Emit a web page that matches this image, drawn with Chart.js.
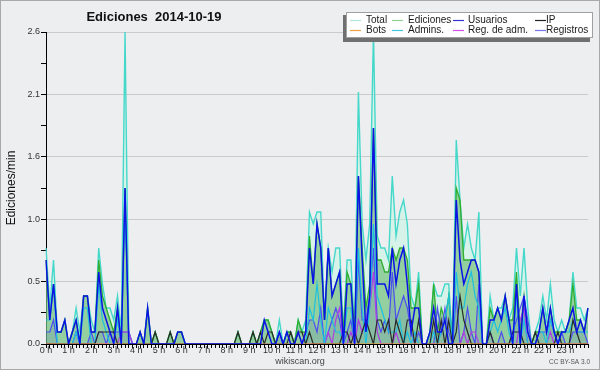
<!DOCTYPE html>
<html><head><meta charset="utf-8">
<script src="https://cdn.jsdelivr.net/npm/chart.js@4/dist/chart.umd.min.js"></script>
<style>html,body{margin:0;padding:0;background:#edeef0;}canvas{display:block;}</style>
</head><body>
<canvas id="c" width="600" height="370"></canvas>
<script>
// ---- data (10-minute steps, edits per minute) ----
const hourTicks = ['0 h','1 h','2 h','3 h','4 h','5 h','6 h','7 h','8 h','9 h','10 h','11 h','12 h','13 h','14 h','15 h','16 h','17 h','18 h','19 h','20 h','21 h','22 h','23 h'];
const times = [];
for (let h = 0; h <= 24; h++) for (let m = 0; m < 60; m += 10) { if (h === 24 && m > 0) break; times.push(String(h).padStart(2,'0') + ':' + String(m).padStart(2,'0')); }

const yTickValues = [0, 0.26, 0.52, 0.78, 1.04, 1.3, 1.56, 1.82, 2.08, 2.34, 2.6];
const yTickLabels = ['0.0', '', '0.5', '', '1.0', '', '1.6', '', '2.1', '', '2.6'];

const total = [
0.8,0.3,0.7,0.1,0.1,0.2, 0,0.1,0.3,0.1,0.4,0.4, 0.2,0.1,0.8,0.5,0.3,0.3, 0.2,0.4,0.1,2.6,0.1,0,
0,0.1,0,0.3,0,0.1, 0,0,0,0.1,0,0.1, 0.1,0,0,0,0,0, 0,0,0,0,0,0,
0,0,0,0.1,0,0, 0,0.1,0,0.1,0.2,0.2, 0.1,0,0.2,0,0.1,0.1, 0,0.2,0.1,0.2,1.1,1.0,
1.1,1.1,0.2,0.8,0.6,0.8, 0.8,0.1,0.7,0.7,0.1,2.1, 1.0,0.7,1.0,2.6,0.9,0.8, 0.8,0.7,1.4,0.9,1.1,1.2,
1.0,0.4,0.3,0.6,0,0, 0.1,0.5,0.4,0.4,0.5,0.5, 0,1.7,1.2,0.8,1.0,0.8, 0.7,1.1,0,0,0.4,0.2,
0.3,0.3,0.4,0.2,0.3,0.8, 0.4,0.8,0.3,0,0.1,0.2, 0.4,0.2,0.5,0.2,0.1,0.2, 0.1,0.2,0.6,0.3,0.3,0.2,
0.3];
const ediciones = [
0.7,0.2,0.5,0.1,0.1,0.2, 0,0.1,0.2,0,0.4,0.4, 0.1,0.1,0.7,0.4,0.3,0.2, 0.1,0.3,0,1.3,0,0,
0,0.1,0,0.3,0,0.1, 0,0,0,0.1,0,0.1, 0.1,0,0,0,0,0, 0,0,0,0,0,0,
0,0,0,0.1,0,0, 0,0.1,0,0.1,0.2,0.2, 0.1,0,0.1,0,0.1,0.1, 0,0.2,0.1,0.1,0.9,0.5,
1.0,0.8,0.2,0.8,0.4,0.5, 0.6,0.1,0.6,0.5,0.1,1.4, 0.8,0.3,0.5,1.8,0.7,0.7, 0.6,0.6,0.8,0.7,0.8,0.8,
0.7,0.3,0.3,0.5,0,0, 0.1,0.5,0.1,0.3,0.2,0.4, 0,1.3,1.2,0.7,0.7,0.7, 0.7,0.6,0,0,0.3,0.2,
0.3,0.2,0.4,0.2,0.2,0.6, 0.1,0.4,0.1,0,0.1,0.1, 0.3,0.1,0.3,0.1,0.1,0.1, 0.1,0.2,0.5,0.2,0.2,0.1,
0.3];
const usuarios = [
0.7,0.2,0.5,0.1,0.1,0.2, 0,0.1,0.2,0,0.4,0.4, 0.1,0.1,0.6,0.3,0.2,0.1, 0,0.3,0,1.3,0,0,
0,0.1,0,0.3,0,0, 0,0,0,0,0,0.1, 0.1,0,0,0,0,0, 0,0,0,0,0,0,
0,0,0,0,0,0, 0,0,0,0,0.2,0.1, 0,0,0.1,0,0.1,0, 0,0.1,0,0.1,0.8,0.5,
1.0,0.8,0.2,0.8,0.4,0.5, 0.6,0,0.5,0.5,0,1.4, 0.7,0.1,0.4,1.8,0.5,0.5, 0.5,0.4,0.8,0.5,0.7,0.8,
0.5,0.1,0.3,0.3,0,0, 0.1,0.3,0.1,0.1,0.2,0, 0,1.2,0.7,0.5,0.6,0.7, 0.7,0.6,0,0,0.2,0.2,
0.3,0.2,0.4,0.2,0,0.5, 0,0.4,0.1,0,0,0.1, 0.3,0.1,0.3,0.1,0,0.1, 0.1,0.2,0.3,0.1,0.2,0.1,
0.3];
const ip = [
0,0,0,0,0,0, 0,0,0,0,0,0, 0,0,0.1,0.1,0.1,0.1, 0.1,0,0,0,0,0,
0,0,0,0,0,0.1, 0,0,0,0.1,0,0, 0,0,0,0,0,0, 0,0,0,0,0,0,
0,0,0,0.1,0,0, 0,0.1,0,0.1,0,0.1, 0.1,0,0,0,0,0.1, 0,0.1,0.1,0,0.1,0,
0,0,0,0,0,0, 0,0.1,0.1,0,0.1,0, 0.1,0.2,0.1,0,0.2,0.2, 0.1,0.2,0,0.2,0.1,0,
0.2,0.2,0,0.2,0,0, 0,0.2,0,0.2,0,0.2, 0,0.1,0.4,0.2,0.1,0, 0,0,0,0,0.1,0,
0,0,0,0,0.1,0.1, 0.1,0,0,0,0.1,0, 0,0,0,0,0.1,0, 0,0,0.2,0.1,0,0,
0];
const bots = [
0,0,0,0,0,0, 0,0,0,0,0,0, 0,0,0,0,0,0, 0,0,0,0,0,0,
0,0,0,0,0,0, 0,0,0,0,0,0, 0,0,0,0,0,0, 0,0,0,0,0,0,
0,0,0,0,0,0, 0,0,0,0,0,0, 0,0,0,0,0,0, 0,0,0,0,0,0,
0,0,0,0,0,0, 0,0,0,0,0,0, 0,0,0,0,0,0, 0,0,0,0,0,0,
0,0,0,0,0,0, 0,0,0,0,0,0, 0,0,0,0,0,0, 0,0,0,0,0,0,
0,0,0,0,0,0, 0,0,0,0,0,0, 0,0,0,0,0,0, 0,0,0,0,0,0,
0];
const admins = [
0.2,0.2,0.5,0,0,0, 0,0,0.1,0,0.3,0.3, 0,0,0.5,0.2,0.1,0, 0,0.2,0,1.2,0,0,
0,0,0,0,0,0, 0,0,0,0,0,0, 0,0,0,0,0,0, 0,0,0,0,0,0,
0,0,0,0,0,0, 0,0,0,0,0,0, 0,0,0,0,0,0, 0,0,0,0,0.3,0.2,
0.5,0.2,0,0.3,0.2,0.1, 0.1,0,0.3,0.3,0,0.8, 0.3,0,0.3,1.0,0.4,0.3, 0.2,0.1,0.1,0.1,0.2,0,
0.1,0,0.1,0,0,0, 0,0.1,0,0.1,0.2,0.4, 0,0.6,0.3,0.3,0.5,0.6, 0.4,0.3,0,0,0.1,0.2,
0.1,0.2,0.3,0.1,0,0.4, 0,0.2,0,0,0,0.1, 0.1,0,0.2,0.1,0,0.1, 0.1,0.1,0.2,0.1,0.1,0.1,
0.1];
const regAdm = [
0,0,0,0,0,0, 0,0,0,0,0,0, 0,0,0,0,0,0, 0,0,0.1,0.1,0.1,0,
0,0,0,0,0,0, 0,0,0,0,0,0, 0,0,0,0,0,0, 0,0,0,0,0,0,
0,0,0,0,0,0, 0,0,0,0,0,0, 0,0,0,0,0,0, 0,0,0,0,0,0,
0,0,0,0.1,0,0.2, 0.3,0,0,0.1,0,0.2, 0.1,0.2,0.3,0.6,0.1,0, 0,0,0,0.1,0,0,
0,0,0,0,0,0, 0,0,0,0,0,0, 0,0,0,0.1,0,0.1, 0.1,0,0,0,0,0,
0,0,0,0,0,0, 0.2,0.3,0,0,0,0, 0,0,0.1,0,0,0, 0,0,0,0,0,0,
0];
const registros = [
0.1,0.1,0.2,0,0,0, 0,0,0.1,0,0,0, 0.1,0,0.1,0.1,0,0.1, 0.1,0.1,0.1,0.1,0.1,0,
0,0,0,0,0,0, 0,0,0,0,0,0, 0,0,0,0,0,0, 0,0,0,0,0,0,
0,0,0,0,0,0, 0,0,0,0,0,0, 0,0,0.1,0,0,0, 0,0,0,0.1,0.2,0.2,
0.1,0.3,0,0.1,0.2,0.3, 0.2,0,0.1,0.2,0,0.7, 0.2,0.2,0.4,0.8,0.2,0.1, 0.2,0.1,0.6,0.2,0.3,0.4,
0.3,0.1,0,0.1,0,0, 0,0,0.3,0.1,0.3,0.1, 0,0.4,0,0.1,0.3,0.1, 0,0.5,0,0,0.1,0,
0,0.1,0,0,0.1,0.2, 0.3,0.4,0.2,0,0,0.1, 0.1,0.1,0.2,0.1,0,0.1, 0,0,0.1,0.1,0.1,0.1,
0];

// ---- styling ----
const legendItems = [
  {label:'Total', color:'#b0e8e0'}, {label:'Ediciones', color:'#8fcf8f'},
  {label:'Usuarios', color:'#3535d5'}, {label:'IP', color:'#222222'},
  {label:'Bots', color:'#f0a040'}, {label:'Admins.', color:'#40c8e0'},
  {label:'Reg. de adm.', color:'#d050e8'}, {label:'Registros', color:'#7474e8'}
];
const FONT = '"Liberation Sans", Arial, sans-serif';

function ds(label, data, color, width, order, fillColor) {
  return {label, data, borderColor: color, borderWidth: width, pointRadius: 0, tension: 0,
    order, fill: fillColor ? 'origin' : false, backgroundColor: fillColor || color};
}

const decor = {
  id: 'decor',
  beforeDraw(chart) {
    const c = chart.ctx;
    c.save();
    c.fillStyle = '#edeef0';
    c.fillRect(0, 0, 600, 370);
    c.restore();
  },
  afterDraw(chart) {
    const c = chart.ctx;
    c.save();
    // frame
    c.strokeStyle = '#a8a8a8'; c.lineWidth = 1;
    c.strokeRect(0.5, 0.5, 599, 369);
    // title
    c.fillStyle = '#111'; c.font = 'bold 13px ' + FONT;
    c.textAlign = 'center'; c.textBaseline = 'middle';
    c.fillText('Ediciones  2014-10-19', 154, 17);
    // y axis title
    c.save();
    c.translate(12, 188); c.rotate(-Math.PI / 2);
    c.font = '12px ' + FONT; c.fillStyle = '#111';
    c.fillText('Ediciones/min', 0, 0);
    c.restore();
    // footer
    c.font = '9px ' + FONT; c.fillStyle = '#444';
    c.fillText('wikiscan.org', 300, 362);
    c.font = '6.5px ' + FONT; c.textAlign = 'right'; c.fillStyle = '#555';
    c.fillText('CC BY-SA 3.0', 590, 362);
    // legend
    c.fillStyle = '#707070'; c.fillRect(343, 15, 247, 27);
    c.fillStyle = '#ffffff'; c.fillRect(346, 12, 247, 26);
    c.strokeStyle = '#a0a0a0'; c.strokeRect(346.5, 12.5, 246, 25);
    const swX = [350, 392, 453, 535], txX = [366, 408, 468, 546], rowY = [19.5, 29.5];
    c.font = '10px ' + FONT; c.textAlign = 'left'; c.textBaseline = 'middle';
    legendItems.forEach((it, k) => {
      const col = k % 4, row = Math.floor(k / 4);
      const y = rowY[row];
      c.strokeStyle = it.color; c.lineWidth = 1.2;
      c.beginPath(); c.moveTo(swX[col], Math.round(y) + 0.5); c.lineTo(swX[col] + 11, Math.round(y) + 0.5); c.stroke();
      c.fillStyle = '#1a1a1a';
      c.fillText(it.label, txX[col], y + 0.5);
    });
    c.restore();
  }
};

new Chart(document.getElementById('c'), {
  type: 'line',
  data: {
    labels: times,
    datasets: [
      ds('Total', total, '#44d8ca', 1.4, 8, 'rgba(195,245,228,0.55)'),
      ds('Ediciones', ediciones, '#2fae2f', 1.3, 7, 'rgba(40,150,40,0.38)'),
      ds('Registros', registros, '#4d4df2', 1.2, 6, 'rgba(60,60,200,0.12)'),
      ds('Reg. de adm.', regAdm, '#b03ce6', 1.2, 5),
      ds('Admins.', admins, '#1cc0e0', 1.2, 4),
      ds('IP', ip, '#2a2a2a', 1.2, 3),
      ds('Bots', bots, '#ff9c2a', 1.2, 2),
      ds('Usuarios', usuarios, '#0a12e8', 1.5, 1)
    ]
  },
  options: {
    responsive: false, animation: false, devicePixelRatio: 1,
    layout: {padding: {top: 32, right: 12, left: 0, bottom: 0}},
    plugins: {legend: {display: false}, title: {display: false}, tooltip: {enabled: false}},
    scales: {
      x: {
        type: 'category',
        offset: false,
        grid: {display: true, drawOnChartArea: false, drawTicks: true, tickLength: 4, tickColor: '#000'},
        border: {display: true, color: '#000', width: 1},
        ticks: {
          autoSkip: false, maxRotation: 0, minRotation: 0, padding: -3,
          font: {family: FONT, size: 9}, color: '#333',
          callback: (v, i) => (i % 6 === 0 && i / 6 < hourTicks.length) ? hourTicks[i / 6] : ''
        },
        afterFit: s => { s.height = 26; }
      },
      y: {
        min: 0, max: 2.6,
        afterBuildTicks: s => { s.ticks = yTickValues.map(v => ({value: v})); },
        grid: {
          color: ctx => (ctx.index % 2 === 0 ? '#cacaca' : 'rgba(0,0,0,0)'),
          tickColor: '#000', tickLength: 5, drawTicks: true
        },
        border: {display: true, color: '#000', width: 1},
        ticks: {
          padding: 1, font: {family: FONT, size: 9}, color: '#333',
          callback: (v, i) => yTickLabels[i]
        },
        afterFit: s => { s.width = 46; }
      }
    }
  },
  plugins: [decor]
});
</script>
</body></html>
